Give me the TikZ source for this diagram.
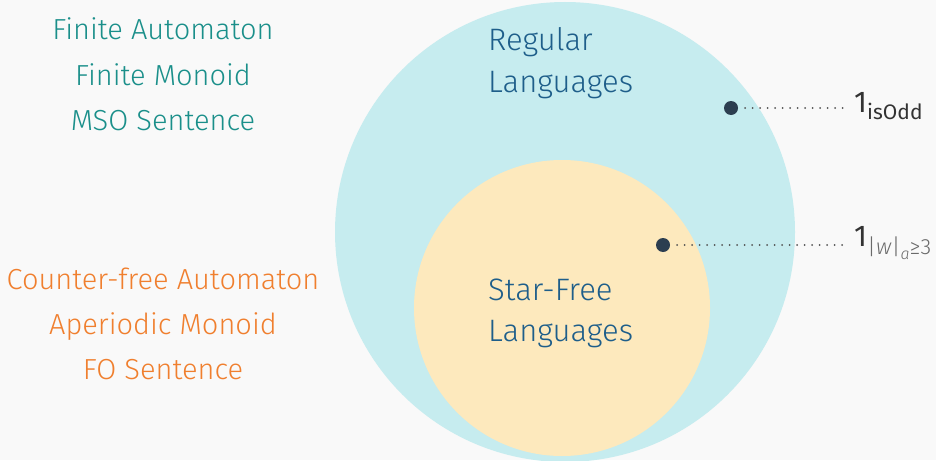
\documentclass[tikz,border=0pt]{standalone}
\usepackage{fontspec}
\setmainfont{Fira Sans}[UprightFont=* Light, ItalicFont=* Light Italic]
\newfontfamily\labfont{Fira Sans}
\usetikzlibrary{positioning}
\definecolor{bgc}{HTML}{F9F9F9}
\definecolor{regfill}{HTML}{C6ECEF}
\definecolor{sffill}{HTML}{FDE9BD}
\definecolor{tealtxt}{HTML}{1A8F8A}
\definecolor{orgtxt}{HTML}{F07F2E}
\definecolor{bluetxt}{HTML}{1E5E8A}
\definecolor{dotc}{HTML}{2C3E50}
\definecolor{labc}{HTML}{333333}
\definecolor{subc}{HTML}{6A6A6A}

\begin{document}
\begin{tikzpicture}[
			x=1pt, y=-1pt,
			font=\fontsize{29}{32}\selectfont,
			set/.style={circle, draw=none, inner sep=0pt},
			chr/.style={anchor=base, inner sep=0pt},
			lang/.style={anchor=base west, inner sep=0pt, text=bluetxt, font=\fontsize{31}{34}\selectfont},
			pt/.style={circle, fill=dotc, minimum size=14pt, inner sep=0pt},
			lead/.style={draw=labc!85, line width=2pt, line cap=round, dash pattern=on 0pt off 7.5pt},
			fn/.style={anchor=west, inner sep=0pt, text=labc, font=\labfont\fontsize{30}{34}\selectfont}
			]
			\fill[bgc] (0,0) rectangle (936,460);
			\clip (0,0) rectangle (936,460);
			% the two classes of languages
			\node[set, fill=regfill, minimum size=460pt] (reg) at (565,232) {};
			\node[set, fill=sffill, minimum size=296pt] (sf) at (562,308) {};
			\node[lang] (regA) at (488,51) {Regular};
			\node[lang] (regB) at (488,92) {Languages};
			\node[lang] (sfA) at (488,300) {Star-Free};
			\node[lang] (sfB) at (488,341) {Languages};
			% characterisations
			\foreach \i/\t in {0/{Finite Automaton},1/{Finite Monoid},2/{MSO Sentence}} {
				\node[chr, text=tealtxt] (reg\i) at (163,{40+\i*45}) {\t};
			}
			\foreach \i/\t in {0/{Counter-free Automaton},1/{Aperiodic Monoid},2/{FO Sentence}} {
				\node[chr, text=orgtxt] (sf\i) at (163,{289+\i*45}) {\t};
			}
			% example languages
			\node[pt] (odd) at (731,108) {};
			\node[pt] (cnt) at (663,245) {};
			\node[fn] (oddlab) at (854,106) {1\raisebox{-0.45ex}{\fontsize{21}{24}\selectfont isOdd}};
			\node[fn] (cntlab) at (854,243) {1\raisebox{-0.5ex}{\color{subc}\rmfamily\fontsize{22}{24}\selectfont |\textit{w}|\raisebox{-0.4ex}{\fontsize{16}{18}\selectfont\textit{a}}≥3}};
			\draw[lead] (odd.east) ++(7,0) -- ([xshift=-6pt]oddlab.west |- odd);
			\draw[lead] (cnt.east) ++(7,0) -- ([xshift=-6pt]cntlab.west |- cnt);
		\end{tikzpicture}
\end{document}
